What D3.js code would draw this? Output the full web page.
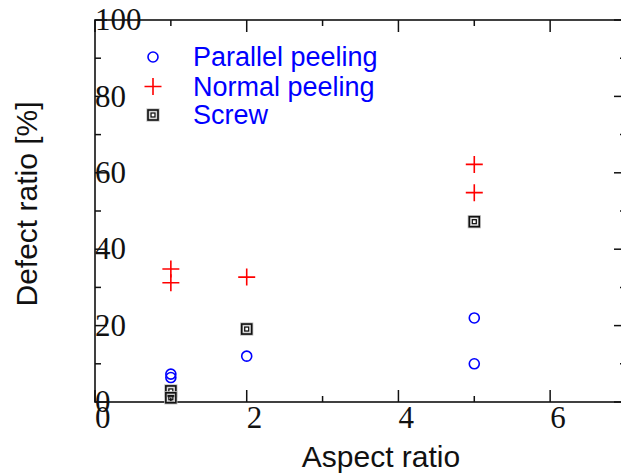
<!DOCTYPE html>
<html>
<head>
<meta charset="utf-8">
<script src="https://cdn.jsdelivr.net/npm/d3@7"></script>
<style>
  body { margin: 0; background: #fff; }
  svg { display: block; }
</style>
</head>
<body>
<div id="chart"></div>
<script>
// values
var parallelX = [1, 1, 2, 5, 5];
var parallelY = [7.3, 6.4, 12.0, 22.0, 10.0];
var normalX = [1, 1, 2, 5, 5];
var normalY = [34.8, 31.2, 32.7, 62.2, 54.8];
var screwX = [1, 1, 2, 5];
var screwY = [2.9, 1.1, 19.1, 47.2];

var xTicks = [0, 2, 4, 6];
var yTicks = [0, 20, 40, 60, 80, 100];
var legendNames = ["Parallel peeling", "Normal peeling", "Screw"];

var W = 621, H = 474;
var svg = d3.select("#chart").append("svg").attr("width", W).attr("height", H);

var x = d3.scaleLinear().domain([0, 7]).range([95, 626]);
var y = d3.scaleLinear().domain([0, 100]).range([402, 20]);

var g = svg.append("g");

// frame
g.append("rect")
  .attr("x", x(0)).attr("y", y(100))
  .attr("width", x(7) - x(0)).attr("height", y(0) - y(100))
  .attr("fill", "none").attr("stroke", "#111").attr("stroke-width", 1.6);

// ticks, all pointing inward
var xMinor = d3.range(0, 7.01, 1);
var yMinor = d3.range(0, 100.1, 10);
xMinor.forEach(function(v) {
  var len = v % 2 == 0 ? 12 : 6;
  g.append("line").attr("x1", x(v)).attr("x2", x(v)).attr("y1", y(0)).attr("y2", y(0) - len)
    .attr("stroke", "#111").attr("stroke-width", 1.5);
  g.append("line").attr("x1", x(v)).attr("x2", x(v)).attr("y1", y(100)).attr("y2", y(100) + len)
    .attr("stroke", "#111").attr("stroke-width", 1.5);
});
yMinor.forEach(function(v) {
  var len = v % 20 == 0 ? 12 : 6;
  g.append("line").attr("x1", x(0)).attr("x2", x(0) + len).attr("y1", y(v)).attr("y2", y(v))
    .attr("stroke", "#111").attr("stroke-width", 1.5);
  g.append("line").attr("x1", x(7)).attr("x2", x(7) - len).attr("y1", y(v)).attr("y2", y(v))
    .attr("stroke", "#111").attr("stroke-width", 1.5);
});

// tick labels (serif, sitting on the axis like the original)
g.selectAll(".xl").data(xTicks).enter().append("text")
  .attr("x", function(d) { return x(d); })
  .attr("y", 428)
  .attr("font-family", "Liberation Serif, serif")
  .attr("font-size", 31)
  .attr("fill", "#111")
  .text(function(d) { return d; });

g.selectAll(".yl").data(yTicks).enter().append("text")
  .attr("x", x(0))
  .attr("y", function(d) { return y(d); })
  .attr("dy", "0.33em")
  .attr("font-family", "Liberation Serif, serif")
  .attr("font-size", 31)
  .attr("fill", "#111")
  .text(function(d) { return d; });

// axis titles
svg.append("text")
  .attr("x", 381).attr("y", 467)
  .attr("text-anchor", "middle")
  .attr("font-family", "Liberation Sans, Arial, sans-serif")
  .attr("font-size", 30)
  .attr("fill", "#111")
  .text("Aspect ratio");

svg.append("text")
  .attr("transform", "translate(37,204) rotate(-90)")
  .attr("text-anchor", "middle")
  .attr("font-family", "Liberation Sans, Arial, sans-serif")
  .attr("font-size", 30)
  .attr("fill", "#111")
  .text("Defect ratio [%]");

// marker helpers
function circleMark(sel, cx, cy) {
  sel.append("circle").attr("cx", cx).attr("cy", cy).attr("r", 5)
    .attr("fill", "none").attr("stroke", "blue").attr("stroke-width", 1.6);
}
function plusMark(sel, cx, cy) {
  sel.append("path")
    .attr("d", "M" + (cx - 8.5) + "," + cy + "H" + (cx + 8.5) + "M" + cx + "," + (cy - 8.5) + "V" + (cy + 8.5))
    .attr("stroke", "red").attr("stroke-width", 1.6).attr("fill", "none");
}
function squareMark(sel, cx, cy) {
  sel.append("rect").attr("x", cx - 5).attr("y", cy - 5).attr("width", 10).attr("height", 10)
    .attr("fill", "none").attr("stroke", "#bbb").attr("stroke-width", 3.2);
  sel.append("rect").attr("x", cx - 5).attr("y", cy - 5).attr("width", 10).attr("height", 10)
    .attr("fill", "none").attr("stroke", "#111").attr("stroke-width", 1.6);
  sel.append("rect").attr("x", cx - 2).attr("y", cy - 2).attr("width", 4).attr("height", 4)
    .attr("fill", "none").attr("stroke", "#111").attr("stroke-width", 1.3);
}

var pts = svg.append("g");
parallelX.forEach(function(v, i) { circleMark(pts, x(v), y(parallelY[i])); });
normalX.forEach(function(v, i) { plusMark(pts, x(v), y(normalY[i])); });
screwX.forEach(function(v, i) { squareMark(pts, x(v), y(screwY[i])); });

// legend
var leg = svg.append("g");
var markFns = [circleMark, plusMark, squareMark];
var legY = [57, 86.5, 115];
legendNames.forEach(function(name, i) {
  markFns[i](leg, 153, legY[i]);
  leg.append("text")
    .attr("x", 193).attr("y", legY[i] + 9)
    .attr("font-family", "Liberation Sans, Arial, sans-serif")
    .attr("font-size", 27)
    .attr("fill", "blue")
    .text(name);
});
</script>
</body>
</html>
